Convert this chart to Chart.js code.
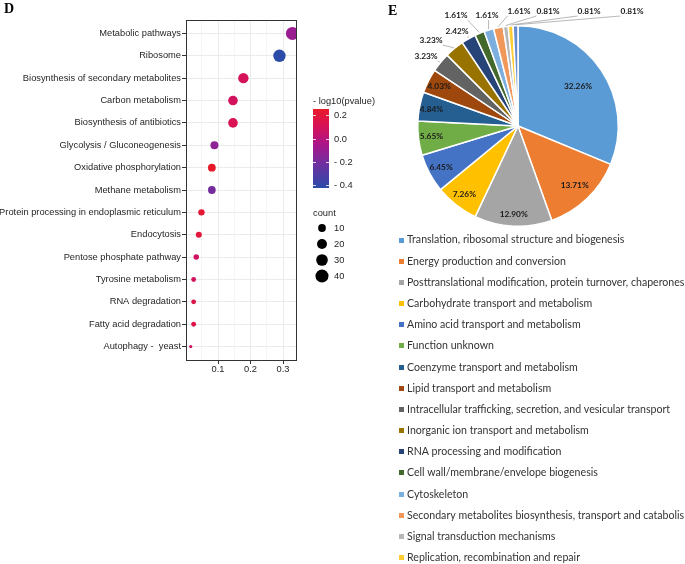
<!DOCTYPE html>
<html>
<head>
<meta charset="utf-8">
<script src="https://cdn.jsdelivr.net/npm/chart.js@4"></script>
<style>
  body { margin: 0; background: #fff; }
  #wrap { position: relative; width: 685px; height: 564px; overflow: hidden; background: #fff; }
  .tag { position: absolute; font: bold 14px "Liberation Serif", serif; color: #000; }
  canvas { position: absolute; top: 0; }
</style>
</head>
<body>
<div id="wrap">
  <canvas id="dotChart" width="380" height="381" style="left:0"></canvas>
  <canvas id="pieChart" width="305" height="564" style="left:380px"></canvas>
  <div class="tag" style="left:4px;top:1px">D</div>
  <div class="tag" style="left:388px;top:3px">E</div>
</div>
<script>
// ---- panel D: KEGG enrichment dots ----
const categories = ['Metabolic pathways', 'Ribosome', 'Biosynthesis of secondary metabolites', 'Carbon metabolism',
  'Biosynthesis of antibiotics', 'Glycolysis / Gluconeogenesis', 'Oxidative phosphorylation', 'Methane metabolism',
  'Protein processing in endoplasmic reticulum', 'Endocytosis', 'Pentose phosphate pathway', 'Tyrosine metabolism',
  'RNA degradation', 'Fatty acid degradation', 'Autophagy -  yeast'];
const ratio = [0.329, 0.289, 0.178, 0.146, 0.146, 0.089, 0.081, 0.081, 0.049, 0.041, 0.033, 0.025, 0.025, 0.025, 0.016];
const counts = [40, 35, 22, 18, 18, 11, 10, 10, 6, 5, 4, 3, 3, 3, 2];
const logp = [-0.10, -0.425, 0.10, 0.09, 0.12, -0.13, 0.255, -0.20, 0.22, 0.20, 0.08, 0.09, 0.16, 0.16, 0.07];
const xTicks = [0.05, 0.1, 0.15, 0.2, 0.25, 0.3];
const xTickLabels = ['', '0.1', '', '0.2', '', '0.3'];
const colorTicks = [0.2, 0.0, -0.2, -0.4];
const colorTickLabels = ['0.2', '0.0', '- 0.2', '- 0.4'];
const countTicks = [10, 20, 30, 40];

// ---- panel E: COG pie ----
const cogLabels = ['Translation, ribosomal structure and biogenesis', 'Energy production and conversion',
  'Posttranslational modification, protein turnover, chaperones', 'Carbohydrate transport and metabolism',
  'Amino acid transport and metabolism', 'Function unknown', 'Coenzyme transport and metabolism',
  'Lipid transport and metabolism', 'Intracellular trafficking, secretion, and vesicular transport',
  'Inorganic ion transport and metabolism', 'RNA processing and modification',
  'Cell wall/membrane/envelope biogenesis', 'Cytoskeleton',
  'Secondary metabolites biosynthesis, transport and catabolism', 'Signal transduction mechanisms',
  'Replication, recombination and repair', 'Defense mechanisms'];
const cogPercent = [32.26, 13.71, 12.90, 7.26, 6.45, 5.65, 4.84, 4.03, 3.23, 3.23, 2.42, 1.61, 1.61, 1.61, 0.81, 0.81, 0.81];
const pieColors = ['#5B9BD5', '#ED7D31', '#A5A5A5', '#FFC000', '#4472C4', '#70AD47', '#255E91', '#9E480E',
  '#636363', '#997300', '#264478', '#43682B', '#7CAFDD', '#F1975A', '#B7B7B7', '#FFCD33', '#698ED0'];

const pMin = Math.min(...logp), pMax = Math.max(...logp);
const gradStops = [[0, [43, 75, 168]], [0.3, [110, 48, 160]], [0.55, [170, 22, 138]], [0.78, [215, 18, 88]], [1, [232, 26, 42]]];

function pColor(v) {
  const t = Math.min(1, Math.max(0, (v - pMin) / (pMax - pMin)));
  for (let i = 1; i < gradStops.length; i++) {
    const [t1, c1] = gradStops[i];
    const [t0, c0] = gradStops[i - 1];
    if (t <= t1) {
      const f = (t - t0) / (t1 - t0);
      const c = c0.map((v0, k) => Math.round(v0 + (c1[k] - v0) * f));
      return 'rgb(' + c.join(',') + ')';
    }
  }
  return 'rgb(232,26,42)';
}

// ggplot-like area scale: size 1..6 over count range
const cMin = Math.min(...counts), cMax = Math.max(...counts);
function sizeR(c) {
  const s = 1 + 5 * Math.sqrt((c - cMin) / (cMax - cMin));
  return 0.65 + 0.98 * s;
}

const textCol = '#1f1f1f';
const dFont = '"Liberation Sans", Arial, sans-serif';

const dotExtras = {
  id: 'dotExtras',
  afterDraw(chart) {
    const ctx = chart.ctx;
    const a = chart.chartArea;
    ctx.save();
    ctx.strokeStyle = '#333';
    ctx.lineWidth = 1;
    ctx.strokeRect(Math.round(a.left) + 0.5, Math.round(a.top) + 0.5, Math.round(a.right - a.left) - 1, Math.round(a.bottom - a.top));

    // colour bar
    const bx = 313, bw = 16, btop = 109, bh = 79;
    ctx.font = '9.3px ' + dFont;
    ctx.fillStyle = textCol;
    ctx.textBaseline = 'middle';
    ctx.textAlign = 'left';
    ctx.fillText('- log10(pvalue)', bx, 101);
    const g = ctx.createLinearGradient(0, btop + bh, 0, btop);
    gradStops.forEach(([t, c]) => g.addColorStop(t, 'rgb(' + c.join(',') + ')'));
    ctx.fillStyle = g;
    ctx.fillRect(bx, btop, bw, bh);
    ctx.strokeStyle = 'rgba(255,255,255,0.8)';
    colorTicks.forEach((v, i) => {
      const y = Math.round(btop + (pMax - v) / (pMax - pMin) * bh) + 0.5;
      ctx.beginPath();
      ctx.moveTo(bx, y); ctx.lineTo(bx + 3, y);
      ctx.moveTo(bx + bw - 3, y); ctx.lineTo(bx + bw, y);
      ctx.stroke();
      ctx.fillStyle = textCol;
      ctx.fillText(colorTickLabels[i], 334, y);
    });

    // size legend
    ctx.fillStyle = textCol;
    ctx.fillText('count', bx, 213);
    countTicks.forEach((c, i) => {
      const y = 228 + i * 16;
      ctx.fillStyle = '#000';
      ctx.beginPath();
      ctx.arc(322, y, sizeR(c), 0, Math.PI * 2);
      ctx.fill();
      ctx.fillStyle = textCol;
      ctx.fillText(String(c), 334, y);
    });
    ctx.restore();
  }
};

new Chart(document.getElementById('dotChart'), {
  type: 'bubble',
  data: {
    datasets: [{
      data: categories.map((c, i) => ({ x: ratio[i], y: i, r: sizeR(counts[i]) })),
      backgroundColor: logp.map(pColor),
      borderWidth: 0,
      clip: 0
    }]
  },
  options: {
    responsive: false,
    animation: false,
    events: [],
    layout: { padding: { top: 20, right: 83, left: 0, bottom: 0 } },
    plugins: { legend: { display: false }, tooltip: { enabled: false } },
    scales: {
      x: {
        type: 'linear',
        min: 0.0015,
        max: 0.343,
        afterBuildTicks: s => { s.ticks = xTicks.map(v => ({ value: v })); },
        afterFit: s => { s.height = 21; },
        ticks: {
          autoSkip: false, maxRotation: 0, padding: 0, color: textCol,
          font: { family: dFont, size: 9.3 },
          callback: (v, i) => xTickLabels[i]
        },
        grid: {
          color: c => xTickLabels[c.index] ? '#EBEBEB' : '#F5F5F5',
          tickColor: c => xTickLabels[c.index] ? '#333' : 'rgba(0,0,0,0)',
          tickLength: 4
        },
        border: { display: false }
      },
      y: {
        type: 'linear',
        reverse: true,
        min: -0.6,
        max: categories.length - 0.4,
        afterBuildTicks: s => { s.ticks = categories.map((c, i) => ({ value: i })); },
        afterFit: s => { s.width = 186; },
        ticks: {
          autoSkip: false, padding: 1, color: textCol,
          font: { family: dFont, size: 9.3 },
          callback: v => categories[v]
        },
        grid: { color: '#EBEBEB', tickColor: '#333', tickLength: 4 },
        border: { display: false }
      }
    }
  },
  plugins: [dotExtras]
});

// ---- pie ----
const eFont = 'Lato, "Open Sans", sans-serif';
const insideFactor = [0.72, 0.82, 0.88, 0.87, 0.87, 0.87, 0.88, 0.88];
// label centres for the thin slices (canvas coords)
const outsidePos = [[46, 56], [51, 40], [77, 31], [76, 15], [107, 15], [139, 11], [168, 11], [209, 11], [252, 11]];

const pieExtras = {
  id: 'pieExtras',
  afterDatasetsDraw(chart) {
    const ctx = chart.ctx;
    const meta = chart.getDatasetMeta(0);
    ctx.save();
    ctx.font = 'bold 8.3px ' + eFont;
    ctx.textAlign = 'center';
    ctx.textBaseline = 'middle';
    meta.data.forEach((arc, i) => {
      const p = arc.getProps(['x', 'y', 'startAngle', 'endAngle', 'outerRadius'], true);
      const mid = (p.startAngle + p.endAngle) / 2;
      const text = cogPercent[i].toFixed(2) + '%';
      ctx.fillStyle = '#1a1a1a';
      if (i < insideFactor.length) {
        const r = p.outerRadius * insideFactor[i];
        ctx.fillText(text, p.x + Math.cos(mid) * r, p.y + Math.sin(mid) * r);
      } else {
        const [lx, ly] = outsidePos[i - insideFactor.length];
        const ex = p.x + Math.cos(mid) * (p.outerRadius + 1);
        const ey = p.y + Math.sin(mid) * (p.outerRadius + 1);
        const w = ctx.measureText(text).width;
        const ax = Math.min(Math.max(ex, lx - w / 2), lx + w / 2);
        ctx.strokeStyle = '#A6A6A6';
        ctx.lineWidth = 0.8;
        ctx.beginPath();
        ctx.moveTo(ex, ey);
        ctx.lineTo(ax, ly + 5);
        ctx.stroke();
        ctx.fillText(text, lx, ly);
      }
    });

    // legend, one entry per row
    ctx.font = '10.6px ' + eFont;
    ctx.textAlign = 'left';
    cogLabels.forEach((lab, i) => {
      const y = 240 + i * 21.18;
      ctx.fillStyle = pieColors[i];
      ctx.fillRect(19, Math.round(y - 2.5), 5, 5);
      ctx.fillStyle = '#333';
      ctx.fillText(lab, 27, y);
    });
    ctx.restore();
  }
};

new Chart(document.getElementById('pieChart'), {
  type: 'pie',
  data: {
    labels: cogLabels,
    datasets: [{
      data: cogPercent,
      backgroundColor: pieColors,
      borderColor: '#fff',
      borderWidth: 1.5
    }]
  },
  options: {
    responsive: false,
    animation: false,
    events: [],
    layout: { padding: { left: 37, top: 25, right: 66, bottom: 337 } },
    plugins: { legend: { display: false }, tooltip: { enabled: false } }
  },
  plugins: [pieExtras]
});
</script>
</body>
</html>
